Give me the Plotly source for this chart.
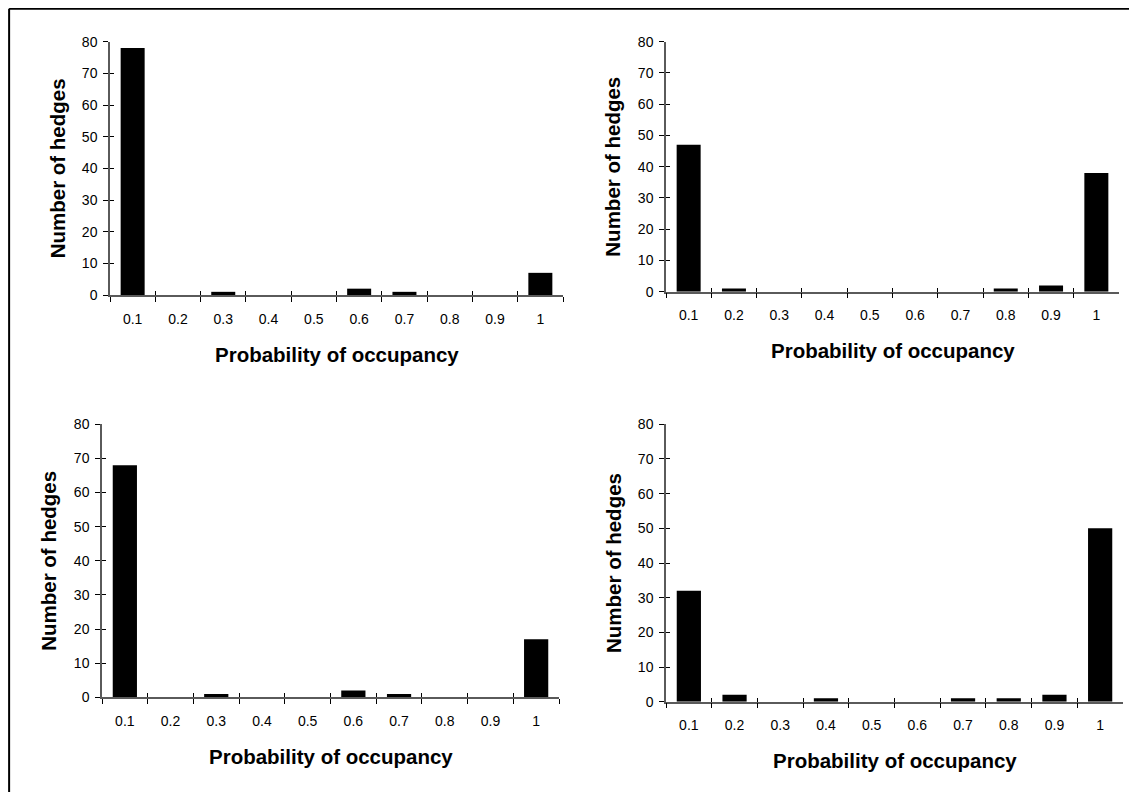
import plotly.graph_objects as go

categories = ["0.1", "0.2", "0.3", "0.4", "0.5", "0.6", "0.7", "0.8", "0.9", "1"]
panel_a = [78, 0, 1, 0, 0, 2, 1, 0, 0, 7]
panel_b = [47, 1, 0, 0, 0, 0, 0, 1, 2, 38]
panel_c = [68, 0, 1, 0, 0, 2, 1, 0, 0, 17]
panel_d = [32, 2, 0, 1, 0, 0, 1, 1, 2, 50]
y_ticks = [0, 10, 20, 30, 40, 50, 60, 70, 80]
x_title = "Probability of occupancy"
y_title = "Number of hedges"

OFF = 8  # page body margin
W, H = 1137 - 2 * OFF, 800 - 2 * OFF
# page-pixel boxes: (x_left, x_right, y_top(80), y_bottom(0))
boxes = [
    (110, 563, 41.7, 295),
    (666, 1119, 41.7, 291.7),
    (102, 559, 424.3, 697.3),
    (666, 1123, 424.3, 701.7),
]
series = [panel_a, panel_b, panel_c, panel_d]


def px(x):
    return (x - OFF) / W


def py(y):
    return 1 - (y - OFF) / H


FONT = "Liberation Sans, Arial, sans-serif"
AXC = "#5a5a5a"

fig = go.Figure()
layout = dict(
    template="none",
    width=W, height=H, margin=dict(l=0, r=0, t=0, b=0, pad=0, autoexpand=False),
    paper_bgcolor="white", plot_bgcolor="rgba(0,0,0,0)", showlegend=False,
    bargap=0.47, font=dict(family=FONT, color="black"),
)
annotations = []
for i, (vals, (xl, xr, yt, yb)) in enumerate(zip(series, boxes)):
    n = i + 1
    ov = i + 5
    xs = "" if n == 1 else str(n)
    xd = [px(xl), px(xr)]
    yd = [py(yb), py(yt)]
    fig.add_trace(go.Bar(x=categories, y=vals, marker=dict(color="black", line=dict(width=0)),
                         xaxis="x" + xs, yaxis="y" + xs, hoverinfo="x+y"))
    # overlay axes for crossing ticks
    fig.add_trace(go.Scatter(x=categories, y=[None] * len(categories), mode="markers",
                             xaxis="x" + str(ov), yaxis="y" + str(ov), showlegend=False,
                             hoverinfo="skip"))
    layout["xaxis" + xs] = dict(
        domain=xd, anchor="y" + xs, type="category", categoryorder="array",
        categoryarray=categories, range=[-0.5, 9.5], tickson="boundaries",
        ticks="outside", ticklen=5, tickcolor="black", tickwidth=1,
        showline=True, linecolor=AXC, linewidth=1.5, showgrid=False, zeroline=False,
        tickfont=dict(size=14, family=FONT, color="black"), ticklabelstandoff=10,
        fixedrange=True, automargin=False,
    )
    layout["yaxis" + xs] = dict(
        domain=yd, anchor="x" + xs, range=[0, 80], tickvals=y_ticks,
        ticks="outside", ticklen=5, tickcolor="black", tickwidth=1,
        showline=True, linecolor=AXC, linewidth=1.5, showgrid=False, zeroline=False,
        tickfont=dict(size=14, family=FONT, color="black"), ticklabelstandoff=3,
        fixedrange=True, automargin=False,
    )
    layout["xaxis" + str(ov)] = dict(
        domain=xd, anchor="y" + str(ov), overlaying="x" + xs, type="category",
        categoryorder="array", categoryarray=categories, range=[-0.5, 9.5],
        tickson="boundaries", ticks="inside", ticklen=4, tickcolor="black", tickwidth=1,
        showticklabels=False, showline=False, showgrid=False, zeroline=False,
        fixedrange=True, automargin=False,
    )
    layout["yaxis" + str(ov)] = dict(
        domain=yd, anchor="x" + str(ov), overlaying="y" + xs, range=[0, 80], tickvals=y_ticks,
        ticks="inside", ticklen=4, tickcolor="black", tickwidth=1,
        showticklabels=False, showline=False, showgrid=False, zeroline=False,
        fixedrange=True, automargin=False,
    )
    # axis titles
    annotations.append(dict(
        text="<b>" + x_title + "</b>", xref="paper", yref="paper",
        x=px((xl + xr) / 2), y=py(yb + 59), showarrow=False,
        font=dict(size=20.5, family=FONT, color="black"), xanchor="center", yanchor="middle",
    ))
    annotations.append(dict(
        text="<b>" + y_title + "</b>", xref="paper", yref="paper",
        x=px(xl - 53), y=py((yt + yb) / 2), showarrow=False, textangle=-90,
        font=dict(size=20.5, family=FONT, color="black"), xanchor="center", yanchor="middle",
    ))

layout["annotations"] = annotations
layout["shapes"] = [
    dict(type="line", xref="paper", yref="paper", x0=0.001, x1=1.0, y0=0.999, y1=0.999,
         line=dict(color="black", width=2)),
    dict(type="line", xref="paper", yref="paper", x0=0.001, x1=0.001, y0=0, y1=0.999,
         line=dict(color="black", width=2)),
]
fig.update_layout(**layout)
fig.write_html("out.html")
